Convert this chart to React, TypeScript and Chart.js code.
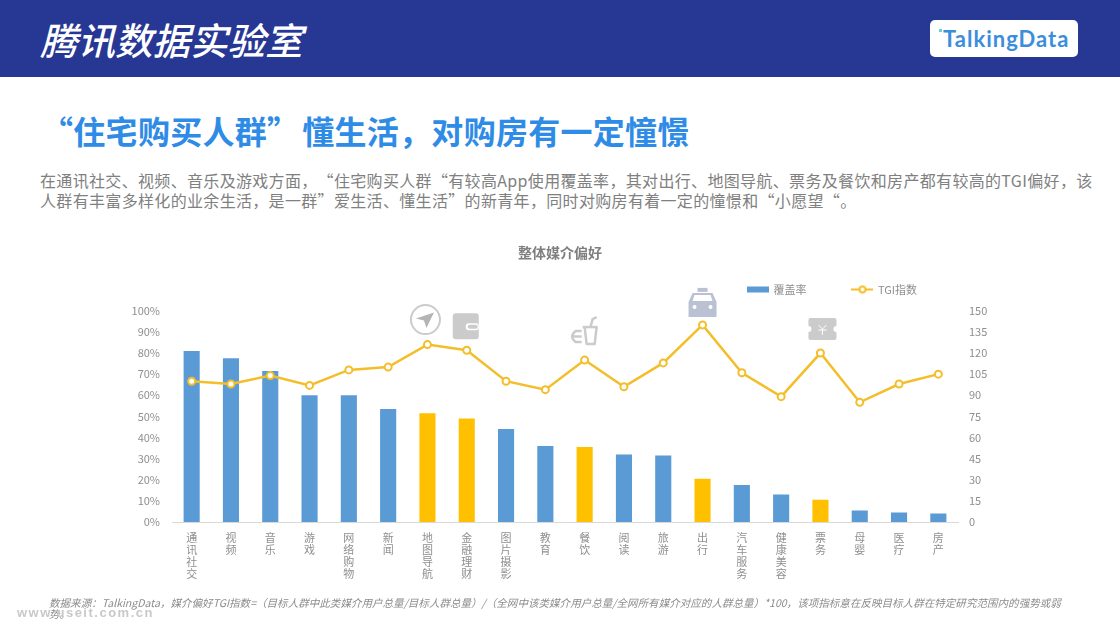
import React, { useEffect, useRef } from "react";
import { Chart, registerables } from "chart.js";

Chart.register(...registerables);

const categories = ["通讯社交", "视频", "音乐", "游戏", "网络购物", "新闻", "地图导航", "金融理财", "图片摄影", "教育", "餐饮", "阅读", "旅游", "出行", "汽车服务", "健康美容", "票务", "母婴", "医疗", "房产"];
const coverage = [81, 77.5, 71.5, 60, 60, 53.5, 51.5, 49, 44, 36, 35.5, 32, 31.5, 20.5, 17.5, 13, 10.5, 5.5, 4.5, 4];
const tgi = [100, 98, 104, 97, 108, 110, 126, 122, 100, 94, 115, 96, 113, 140, 106, 89, 120, 85, 98, 105];
const highlighted = ["地图导航", "金融理财", "餐饮", "出行", "票务"];
const iconByCategory: Record<string, string> = { 地图导航: "compass", 金融理财: "wallet", 餐饮: "drink", 出行: "taxi", 票务: "ticket" };

const seriesNames = ["覆盖率", "TGI指数"];
const BLUE = "#5B9BD5";
const GOLD = "#FFC000";
const LINE = "#F4BE2A";
const FONT = '"Noto Sans CJK SC", "Noto Sans", sans-serif';
const TICK = "#8f8f8f";

function swatch(kind: "bar" | "line") {
  const c = document.createElement("canvas");
  c.width = 22;
  c.height = 10;
  const x = c.getContext("2d")!;
  if (kind === "bar") {
    x.fillStyle = BLUE;
    x.fillRect(0, 2, 22, 6);
  } else {
    x.strokeStyle = LINE;
    x.lineWidth = 2;
    x.beginPath();
    x.moveTo(0, 5);
    x.lineTo(22, 5);
    x.stroke();
    x.beginPath();
    x.arc(11, 5, 3, 0, Math.PI * 2);
    x.fillStyle = "#fff";
    x.fill();
    x.stroke();
  }
  return c;
}

function drawIcon(ctx: CanvasRenderingContext2D, kind: string, px: number, py: number) {
  const G = "#CBCBCB";
  ctx.save();
  ctx.translate(px, py);
  ctx.lineJoin = "round";
  if (kind === "compass") {
    ctx.translate(-2, -25);
    ctx.strokeStyle = G;
    ctx.lineWidth = 2;
    ctx.beginPath();
    ctx.arc(0, 0, 14.5, 0, Math.PI * 2);
    ctx.stroke();
    ctx.fillStyle = "#B4B4B4";
    ctx.beginPath();
    ctx.moveTo(8.5, -7);
    ctx.lineTo(-9.5, -1);
    ctx.lineTo(-1.5, 1);
    ctx.lineTo(1, 8.5);
    ctx.closePath();
    ctx.fill();
  } else if (kind === "wallet") {
    ctx.translate(-1, -24);
    ctx.fillStyle = G;
    ctx.beginPath();
    ctx.roundRect(-13, -13, 26, 26, 3);
    ctx.fill();
    ctx.fillStyle = "#fff";
    ctx.beginPath();
    ctx.roundRect(0, -3, 13, 7, 3);
    ctx.fill();
    ctx.fillStyle = G;
    ctx.beginPath();
    ctx.roundRect(2, -1.5, 10, 4, 2);
    ctx.fill();
  } else if (kind === "drink") {
    ctx.translate(0, -27);
    ctx.strokeStyle = G;
    ctx.fillStyle = G;
    ctx.lineWidth = 2.5;
    ctx.beginPath();
    ctx.moveTo(-2, -6);
    ctx.lineTo(13, -6);
    ctx.stroke();
    ctx.beginPath();
    ctx.moveTo(0, -6);
    ctx.lineTo(2, 11);
    ctx.lineTo(10, 11);
    ctx.lineTo(12, -6);
    ctx.stroke();
    ctx.beginPath();
    ctx.moveTo(6, -7);
    ctx.lineTo(8, -14);
    ctx.lineTo(12, -16);
    ctx.stroke();
    ctx.beginPath();
    ctx.moveTo(-3, -2);
    ctx.lineTo(-9, -2);
    ctx.quadraticCurveTo(-16, 3.5, -9, 9);
    ctx.lineTo(-3, 9);
    ctx.moveTo(-12, 3.5);
    ctx.lineTo(-3, 3.5);
    ctx.stroke();
  } else if (kind === "taxi") {
    ctx.translate(0, -22);
    ctx.fillStyle = "#B9C1D3";
    ctx.fillRect(-5, -15, 10, 4);
    ctx.beginPath();
    ctx.moveTo(-14, 14);
    ctx.lineTo(-14, -1);
    ctx.lineTo(-10, -10);
    ctx.lineTo(10, -10);
    ctx.lineTo(14, -1);
    ctx.lineTo(14, 14);
    ctx.closePath();
    ctx.fill();
    ctx.fillStyle = "#fff";
    ctx.beginPath();
    ctx.moveTo(-10, -2);
    ctx.lineTo(-8, -8);
    ctx.lineTo(8, -8);
    ctx.lineTo(10, -2);
    ctx.closePath();
    ctx.fill();
    ctx.beginPath();
    ctx.arc(-8, 4, 2, 0, Math.PI * 2);
    ctx.arc(8, 4, 2, 0, Math.PI * 2);
    ctx.fill();
  } else if (kind === "ticket") {
    ctx.translate(2, -24);
    ctx.fillStyle = G;
    ctx.beginPath();
    ctx.roundRect(-14, -11, 28, 22, 2);
    ctx.fill();
    ctx.fillStyle = "#fff";
    ctx.beginPath();
    ctx.arc(-14, 0, 3, 0, Math.PI * 2);
    ctx.arc(14, 0, 3, 0, Math.PI * 2);
    ctx.fill();
    ctx.strokeStyle = "#fff";
    ctx.lineWidth = 1;
    ctx.beginPath();
    ctx.moveTo(-4, -4);
    ctx.lineTo(0, 0);
    ctx.lineTo(4, -4);
    ctx.moveTo(0, 0);
    ctx.lineTo(0, 6);
    ctx.moveTo(-4, 1);
    ctx.lineTo(4, 1);
    ctx.stroke();
  }
  ctx.restore();
}

const overlay = {
  id: "overlay",
  afterLayout(chart: any) {
    const lg = chart.legend;
    if (lg) {
      lg.left = 702;
      lg.right = 1100;
      lg.top = 238;
      lg.bottom = 340;
    }
    const t = chart.titleBlock;
    if (t) {
      t.top = 244;
      t.bottom = 261;
      t.left = 0;
      t.right = 1120;
    }
  },
  afterDatasetsDraw(chart: any) {
    const meta = chart.getDatasetMeta(1);
    categories.forEach((c, i) => {
      const kind = iconByCategory[c];
      if (kind) drawIcon(chart.ctx, kind, meta.data[i].x, meta.data[i].y);
    });
  },
};

export default function App() {
  const ref = useRef<HTMLCanvasElement>(null);
  useEffect(() => {
    const chart = new Chart(ref.current!, {
      type: "bar",
      plugins: [overlay],
      data: {
        labels: categories,
        datasets: [
          {
            type: "bar",
            label: seriesNames[0],
            data: coverage,
            yAxisID: "y",
            order: 2,
            backgroundColor: categories.map((c) => (highlighted.includes(c) ? GOLD : BLUE)),
            categoryPercentage: 1,
            barPercentage: 0.41,
          },
          {
            type: "line",
            label: seriesNames[1],
            data: tgi,
            yAxisID: "y1",
            order: 1,
            borderColor: LINE,
            borderWidth: 2.5,
            tension: 0,
            pointRadius: 3.5,
            pointBorderWidth: 2,
            pointBorderColor: LINE,
            pointBackgroundColor: "#fff",
          },
        ],
      } as any,
      options: {
        responsive: false,
        animation: false,
        layout: { padding: { top: 227, left: 100, right: 112, bottom: 38 } },
        plugins: {
          tooltip: { enabled: false },
          title: {
            display: true,
            text: "整体媒介偏好",
            color: "#7f7f7f",
            font: { family: FONT, size: 14, weight: "bold" },
            padding: 0,
          },
          legend: {
            position: "top",
            align: "start",
            labels: {
              usePointStyle: true,
              pointStyleWidth: 20,
              padding: 46,
              color: TICK,
              font: { family: FONT, size: 11 },
              generateLabels: () => [
                { text: seriesNames[0], pointStyle: swatch("bar"), fillStyle: BLUE, strokeStyle: BLUE, lineWidth: 0, fontColor: TICK, datasetIndex: 0 },
                { text: seriesNames[1], pointStyle: swatch("line"), fillStyle: LINE, strokeStyle: LINE, lineWidth: 0, fontColor: TICK, datasetIndex: 1 },
              ] as any,
            },
          },
        },
        scales: {
          x: {
            grid: { display: false, drawTicks: false },
            border: { color: "#d9d9d9", display: true },
            afterFit: (s: any) => { s.height = 70; },
            ticks: {
              padding: 10,
              autoSkip: false,
              maxRotation: 0,
              minRotation: 0,
              color: TICK,
              font: { family: FONT, size: 11, lineHeight: 1.08 },
              callback(this: any, v: any) { return Array.from(this.getLabelForValue(v) as string); },
            },
          },
          y: {
            position: "left",
            min: 0,
            max: 100,
            grid: { display: false, drawTicks: false },
            border: { display: false },
            afterFit: (s: any) => { s.width = 72; },
            ticks: {
              stepSize: 10,
              padding: 12,
              color: TICK,
              font: { family: FONT, size: 11 },
              callback: (v: any) => v + "%",
            },
          },
          y1: {
            position: "right",
            min: 0,
            max: 150,
            grid: { display: false, drawTicks: false },
            border: { display: false },
            afterFit: (s: any) => { s.width = 50; },
            ticks: { stepSize: 15, padding: 11, color: TICK, font: { family: FONT, size: 11 } },
          },
        },
      } as any,
    });
    return () => chart.destroy();
  }, []);

  const abs = (s: any): React.CSSProperties => ({ position: "absolute", whiteSpace: "nowrap", fontFamily: FONT, textSpacingTrim: "space-all", ...s });
  return (
    <div style={{ position: "absolute", left: 0, top: 0, width: 1120, height: 630, overflow: "hidden", background: "#fff" }}>
      <div style={{ position: "absolute", left: 0, top: 0, width: 1120, height: 77, background: "#273794" }} />
      <div style={abs({ left: 40, top: 15, fontSize: 37.5, lineHeight: "48px", color: "#fff", fontStyle: "italic", fontWeight: 500 })}>腾讯数据实验室</div>
      <div style={{ position: "absolute", left: 930, top: 20, width: 148, height: 37, background: "#fff", borderRadius: 5 }} />
      <div style={abs({ left: 943, top: 23, fontSize: 22, lineHeight: "32px", color: "#3C8EDB", fontWeight: 700, fontFamily: "Lato, sans-serif", letterSpacing: 1 })}>TalkingData</div>
      <div style={{ position: "absolute", left: 939, top: 29, width: 3, height: 3, background: "#5FD6D0" }} />
      <div style={abs({ left: 41, top: 108, fontSize: 32, lineHeight: "44px", color: "#2F8CE6", fontWeight: 700, letterSpacing: 0.3 })}>“住宅购买人群<span style={{ letterSpacing: 3 }}>”</span>懂生活，对购房有一定憧憬</div>
      <div style={abs({ left: 40, top: 170, fontSize: 16, lineHeight: "20px", color: "#808080", letterSpacing: 0.33 })}>在通讯社交、视频、音乐及游戏方面，“住宅购买人群“有较高App使用覆盖率，其对出行、地图导航、票务及餐饮和房产都有较高的TGI偏好，该</div>
      <div style={abs({ left: 40, top: 190, fontSize: 16, lineHeight: "20px", color: "#808080", letterSpacing: 0.33 })}>人群有丰富多样化的业余生活，是一群”爱生活、懂生活”的新青年，同时对购房有着一定的憧憬和“小愿望“。</div>
      <canvas ref={ref} width={1120} height={630} style={{ position: "absolute", left: 0, top: 0, display: "block" }} />
      <div style={abs({ left: 49, top: 596, fontSize: 10.55, lineHeight: "13px", color: "#8c8c8c", fontStyle: "italic" })}>数据来源：TalkingData，媒介偏好TGI指数=（目标人群中此类媒介用户总量/目标人群总量）/（全网中该类媒介用户总量/全网所有媒介对应的人群总量）*100，该项指标意在反映目标人群在特定研究范围内的强势或弱</div>
      <div style={abs({ left: 49, top: 607, fontSize: 10.55, lineHeight: "13px", color: "#8c8c8c", fontStyle: "italic" })}>势。</div>
      <div style={abs({ left: 17, top: 606, fontSize: 13, lineHeight: "14px", color: "#c9c9c9", fontFamily: "Liberation Sans, sans-serif", fontWeight: 700, letterSpacing: 1.5 })}>www.useit.com.cn</div>
    </div>
  );
}
